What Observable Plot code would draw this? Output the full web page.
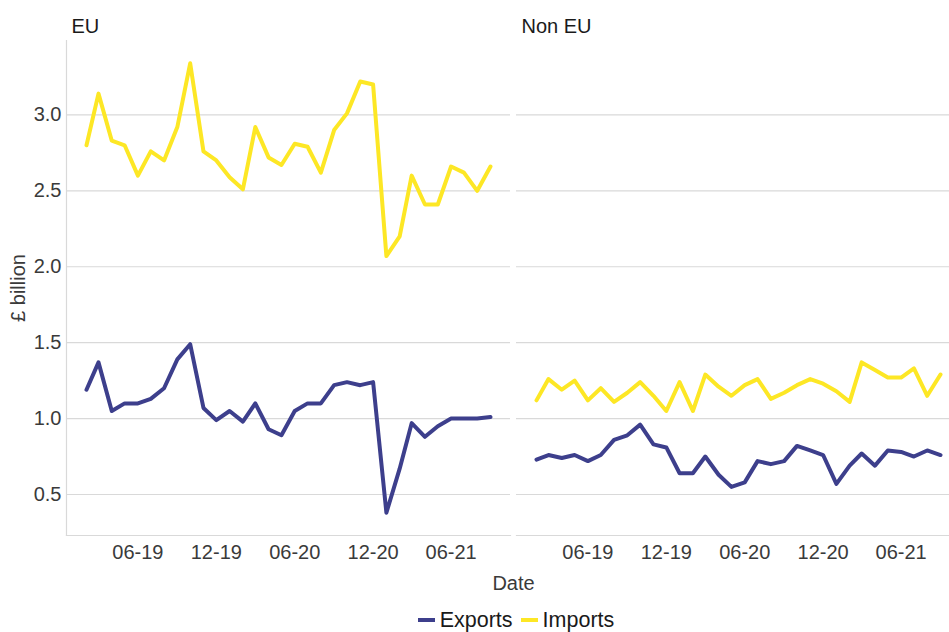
<!DOCTYPE html>
<html>
<head>
<meta charset="utf-8">
<script src="https://cdn.jsdelivr.net/npm/d3@7"></script>
<script src="https://cdn.jsdelivr.net/npm/@observablehq/plot@0.6"></script>
<style>
  html, body { margin: 0; padding: 0; background: #fff; overflow: hidden; width: 949px; height: 632px; }
  #wrap { width: 960px; font-family: "Liberation Sans", Arial, sans-serif; }
  #legend { width: 960px; height: 40px; display: flex; justify-content: center; align-items: center;
            transform: translateX(36px); font-size: 21.5px; line-height: 21px; color: #1a1a1a; }
  .item { display: flex; align-items: center; margin: 0 4px; }
  .item span { line-height: 21px; }
  .sw { width: 17px; height: 4px; margin-right: 5px; }
</style>
</head>
<body>
<div id="wrap"><div id="chart"></div><div id="legend"></div></div>
<script>
const months = ["2019-02","2019-03","2019-04","2019-05","2019-06","2019-07","2019-08","2019-09","2019-10","2019-11","2019-12",
  "2020-01","2020-02","2020-03","2020-04","2020-05","2020-06","2020-07","2020-08","2020-09","2020-10","2020-11","2020-12",
  "2021-01","2021-02","2021-03","2021-04","2021-05","2021-06","2021-07","2021-08","2021-09"];
const regions = ["EU", "Non EU"];
const flows = ["Exports", "Imports"];
const flowColors = ["#3d3f8c", "#fde725"];

const euImports = [2.80,3.14,2.83,2.80,2.60,2.76,2.70,2.92,3.34,2.76,2.70,2.59,2.51,2.92,2.72,2.67,2.81,2.79,2.62,2.90,3.01,3.22,3.20,2.07,2.20,2.60,2.41,2.41,2.66,2.62,2.50,2.66];
const euExports = [1.19,1.37,1.05,1.10,1.10,1.13,1.20,1.39,1.49,1.07,0.99,1.05,0.98,1.10,0.93,0.89,1.05,1.10,1.10,1.22,1.24,1.22,1.24,0.38,0.67,0.97,0.88,0.95,1.00,1.00,1.00,1.01];
const nonEuImports = [1.12,1.26,1.19,1.25,1.12,1.20,1.11,1.17,1.24,1.15,1.05,1.24,1.05,1.29,1.21,1.15,1.22,1.26,1.13,1.17,1.22,1.26,1.23,1.18,1.11,1.37,1.32,1.27,1.27,1.33,1.15,1.29];
const nonEuExports = [0.73,0.76,0.74,0.76,0.72,0.76,0.86,0.89,0.96,0.83,0.81,0.64,0.64,0.75,0.63,0.55,0.58,0.72,0.70,0.72,0.82,0.79,0.76,0.57,0.69,0.77,0.69,0.79,0.78,0.75,0.79,0.76];

const xTickDates = ["2019-06","2019-12","2020-06","2020-12","2021-06"];
const yTicks = [0.5, 1.0, 1.5, 2.0, 2.5, 3.0];

const parse = d3.utcParse("%Y-%m");
const series = [
  {region: "EU", flow: "Exports", values: euExports},
  {region: "EU", flow: "Imports", values: euImports},
  {region: "Non EU", flow: "Exports", values: nonEuExports},
  {region: "Non EU", flow: "Imports", values: nonEuImports}
];
const rows = series.flatMap(s => s.values.map((v, i) => ({region: s.region, flow: s.flow, date: parse(months[i]), value: v})));

const chart = Plot.plot({
  width: 960,
  height: 600,
  marginLeft: 66,
  marginRight: 0,
  marginTop: 40,
  marginBottom: 65,
  style: {fontFamily: "'Liberation Sans', Arial, sans-serif", fontSize: "20px", background: "white", overflow: "visible"},
  fx: {domain: regions, paddingInner: 6 / 450, paddingOuter: 0, axis: null, label: null},
  x: {type: "utc", inset: 20},
  y: {domain: [0.23, 3.49]},
  color: {domain: flows, range: flowColors},
  marks: [
    Plot.gridY(yTicks, {stroke: "#d9d9d9", strokeOpacity: 1, strokeWidth: 1.2}),
    Plot.frame({anchor: "left", stroke: "#d9d9d9", strokeWidth: 1.2, facetAnchor: "left"}),
    Plot.frame({anchor: "bottom", stroke: "#d9d9d9", strokeWidth: 1.2}),
    Plot.axisY(yTicks, {tickSize: 0, tickPadding: 5, tickFormat: d3.format(".1f"), fontSize: 20, fill: "#3a3a3a",
      label: "£ billion", labelAnchor: "center", labelOffset: 56, labelArrow: "none"}),
    Plot.axisX(xTickDates.map(parse), {tickSize: 0, tickPadding: 9, tickFormat: d3.utcFormat("%m-%y"), fontSize: 20, fill: "#3a3a3a",
      label: "Date", labelAnchor: "center", labelOffset: 54, labelArrow: "none"}),
    Plot.lineY(rows, {fx: "region", x: "date", y: "value", z: "flow", stroke: "flow", strokeWidth: 4, strokeLinejoin: "round"}),
    Plot.text(regions, {fx: d => d, text: d => d, frameAnchor: "top-left", lineAnchor: "middle", dx: 5, dy: -14,
      textAnchor: "start", fontSize: 20, fill: "#1a1a1a"})
  ]
});
document.getElementById("chart").appendChild(chart);

const legend = d3.select("#legend");
flows.forEach((f, i) => {
  const it = legend.append("div").attr("class", "item");
  it.append("div").attr("class", "sw").style("background", flowColors[i]);
  it.append("span").text(f);
});
</script>
</body>
</html>
